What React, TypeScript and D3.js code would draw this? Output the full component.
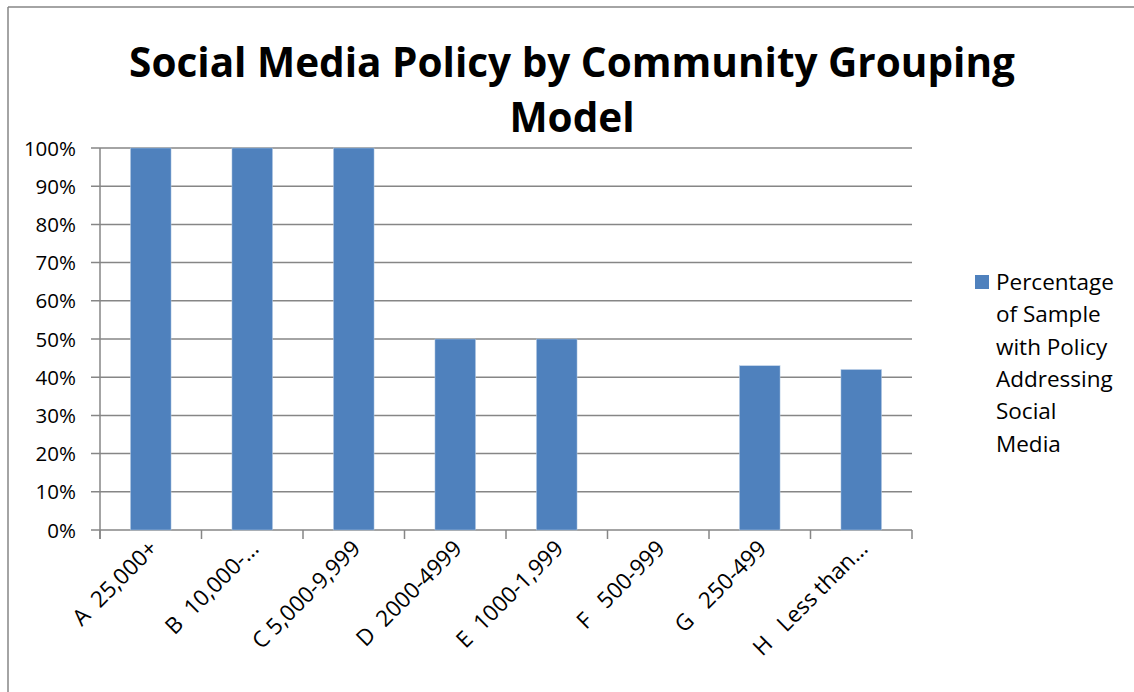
import React from "react";
import * as d3 from "d3";

const categories = [
  "A  25,000+",
  "B  10,000-…",
  "C 5,000-9,999",
  "D  2000-4999",
  "E  1000-1,999",
  "F   500-999",
  "G   250-499",
  "H   Less than…",
];
const values = [100, 100, 100, 50, 50, 0, 43, 42];
const yTicks = [0, 10, 20, 30, 40, 50, 60, 70, 80, 90, 100];
const titleLines = ["Social Media Policy by Community Grouping", "Model"];
const legendLines = ["Percentage", "of Sample", "with Policy", "Addressing", "Social", "Media"];

const W = 1134;
const H = 692;
const FONT = "'Open Sans', 'Noto Sans', sans-serif";
const BAR = "#4f81bd";
const GRID = "#868686";

export default function App() {
  const x = d3.scaleBand<string>().domain(categories).range([100, 912]).paddingInner(0.6).paddingOuter(0.3);
  const band = d3.scaleBand<string>().domain(categories).range([100, 912]);
  const y = d3.scaleLinear().domain([0, 100]).range([530, 148]);
  const ticksX = d3.range(categories.length + 1).map((i) => 100 + i * band.step());

  return (
    <svg width={W} height={H} style={{ position: "absolute", left: 0, top: 0, background: "#fff" }}>
      <line x1={8} y1={7} x2={W} y2={7} stroke={GRID} strokeWidth={1.5} />
      <line x1={8} y1={7} x2={8} y2={H} stroke={GRID} strokeWidth={1.5} />
      {titleLines.map((t, i) => (
        <text key={i} x={572} y={77 + i * 55} textAnchor="middle" fontFamily={FONT} fontWeight="bold" fontSize={40.5} fill="#000">
          {t}
        </text>
      ))}
      {yTicks.map((t) => (
        <g key={t}>
          <line x1={91} x2={912} y1={y(t)} y2={y(t)} stroke={GRID} strokeWidth={1.5} />
          <text x={76} y={y(t) + 7.5} textAnchor="end" fontFamily={FONT} fontSize={20.5} fill="#000">
            {t}%
          </text>
        </g>
      ))}
      <line x1={100} x2={100} y1={148} y2={539} stroke={GRID} strokeWidth={1.5} />
      {ticksX.map((tx, i) => (
        <line key={i} x1={tx} x2={tx} y1={530} y2={539} stroke={GRID} strokeWidth={1.5} />
      ))}
      {categories.map((c, i) => (
        <rect key={c} x={x(c)} y={y(values[i])} width={x.bandwidth()} height={y(0) - y(values[i])} fill={BAR} stroke="#b9cde5" strokeWidth={0.5} />
      ))}
      {categories.map((c) => {
        const cx = (band(c) as number) + band.bandwidth() / 2 + 8;
        return (
          <text key={c} transform={`translate(${cx},550) rotate(-45)`} textAnchor="end" fontFamily={FONT} fontSize={22.5} fill="#000" style={{ whiteSpace: "pre" }}>
            {c}
          </text>
        );
      })}
      <rect x={975} y={275} width={14} height={14} fill={BAR} />
      {legendLines.map((l, i) => (
        <text key={i} x={996} y={290 + i * 32.3} fontFamily={FONT} fontSize={22.5} fill="#000">
          {l}
        </text>
      ))}
    </svg>
  );
}
